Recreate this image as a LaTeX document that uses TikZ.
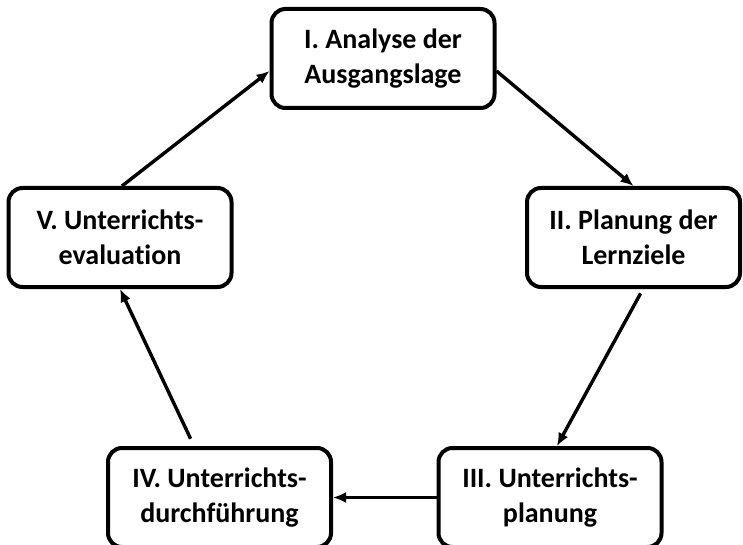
\documentclass[tikz,border=0pt]{standalone}
\usepackage{fontspec}
\setmainfont{Carlito}[Ligatures=NoCommon]
\usepackage{tikz}
\usetikzlibrary{arrows.meta, positioning}

\begin{document}
\begin{tikzpicture}[
    x=1pt, y=-1pt,
    stage/.style={rectangle, draw, rounded corners=14pt, line width=4pt,
        minimum width=223pt, minimum height=99pt, align=center,
        font=\bfseries\fontsize{28}{35}\selectfont},
    flow/.style={-{Latex[length=13pt,width=11pt]}, line width=3.4pt}
]
\useasboundingbox (0,0) rectangle (743,545);

\node (ana)  [stage] at (383,58.5)  {I. Analyse der\\Ausgangslage};
\node (ziel) [stage, minimum width=213pt] at (633.5,237.5) {II. Planung der\\Lernziele};
\node (plan) [stage] at (550,497.5) {III. Unterrichts-\\planung};
\node (durch)[stage] at (219.5,497.5) {IV. Unterrichts-\\durchführung};
\node (eval) [stage] at (120,237.5) {V. Unterrichts-\\evaluation};

\draw [flow] ([yshift=-12.5pt]ana.east) -- (ziel.north);
\draw [flow, shorten <=5pt] ([xshift=9.5pt]ziel.south) -- ([xshift=7pt]plan.north);
\draw [flow] (plan.west) -- (durch.east);
\draw [flow, shorten <=8pt] ([xshift=-25.5pt]durch.north) -- (eval.south);
\draw [flow] ([xshift=2pt]eval.north) -- ([yshift=-12.5pt]ana.west);

\end{tikzpicture}
\end{document}
